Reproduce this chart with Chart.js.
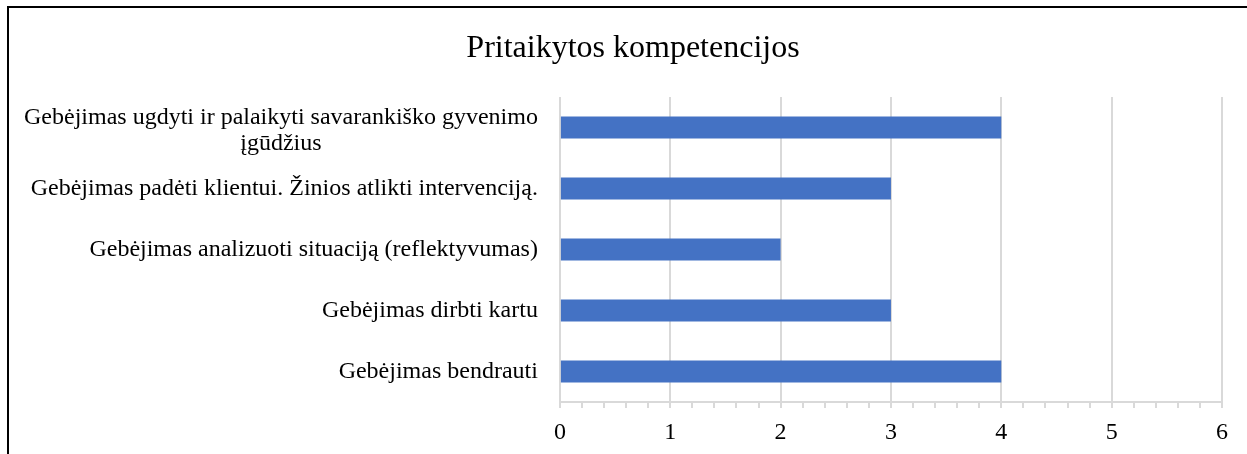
<!DOCTYPE html>
<html>
<head>
<meta charset="utf-8">
<script src="https://cdn.jsdelivr.net/npm/chart.js@4"></script>
<style>
  html, body { margin: 0; padding: 0; background: #fff; overflow: hidden; }
  #frame { position: absolute; left: 7px; top: 6px; width: 1300px; height: 500px;
           border-top: 2px solid #000; border-left: 2px solid #000; }
  #wrap { position: absolute; left: 0; top: 0; width: 1247px; height: 454px; overflow: hidden; }
</style>
</head>
<body>
<div id="frame"></div>
<div id="wrap"><canvas id="chart" width="1247" height="459"></canvas></div>
<script>
const title = 'Pritaikytos kompetencijos';
const categories = [
  ['Gebėjimas ugdyti ir palaikyti savarankiško gyvenimo', 'įgūdžius'],
  'Gebėjimas padėti klientui. Žinios atlikti intervenciją.',
  'Gebėjimas analizuoti situaciją (reflektyvumas)',
  'Gebėjimas dirbti kartu',
  'Gebėjimas bendrauti'
];
const values = [4, 3, 2, 3, 4];
const xTicks = [0, 1, 2, 3, 4, 5, 6];

const serif = "'Liberation Serif', 'Times New Roman', serif";
const isMajor = v => Math.abs(v - Math.round(v)) < 1e-6;

// title centred on the frame, y labels: single lines right aligned, two-line label centred as a block
const textPlugin = {
  id: 'textPlugin',
  afterDraw(chart) {
    const ctx = chart.ctx;
    const y = chart.scales.y;
    ctx.save();
    ctx.fillStyle = '#000';
    ctx.textAlign = 'center';
    ctx.textBaseline = 'middle';
    ctx.font = '32px ' + serif;
    ctx.fillText(title, 633, 49);
    ctx.font = '24px ' + serif;
    const right = y.right - 22;
    const lh = 26;
    categories.forEach((lab, i) => {
      const lines = Array.isArray(lab) ? lab : [lab];
      const w = Math.max(...lines.map(l => ctx.measureText(l).width));
      const cy = y.getPixelForValue(i) + (lines.length > 1 ? 3 : 0);
      const top = cy - (lines.length - 1) * lh / 2;
      lines.forEach((l, j) => ctx.fillText(l, right - w / 2, top + j * lh));
    });
    ctx.restore();
  }
};

new Chart(document.getElementById('chart'), {
  type: 'bar',
  data: {
    labels: categories,
    datasets: [{
      data: values,
      backgroundColor: '#4472C4',
      barPercentage: 0.36,
      categoryPercentage: 1
    }]
  },
  options: {
    indexAxis: 'y',
    responsive: false,
    animation: false,
    layout: { padding: { left: 2, right: 25, top: 97, bottom: 1 } },
    plugins: {
      legend: { display: false },
      tooltip: { enabled: false },
      title: { display: false }
    },
    scales: {
      x: {
        min: xTicks[0],
        max: xTicks[xTicks.length - 1],
        border: { color: '#d9d9d9', width: 2 },
        grid: {
          lineWidth: 2,
          color: c => isMajor(c.tick.value) ? '#d9d9d9' : 'rgba(0,0,0,0)',
          tickColor: '#d9d9d9',
          tickLength: 6
        },
        ticks: {
          stepSize: 0.2,
          autoSkip: false,
          maxRotation: 0,
          color: '#000',
          padding: 13,
          font: { family: serif, size: 24, lineHeight: 1 },
          callback: v => isMajor(v) && xTicks.includes(Math.round(v)) ? String(Math.round(v)) : ''
        }
      },
      y: {
        border: { display: false },
        grid: { display: false, drawTicks: false },
        ticks: {
          autoSkip: false,
          color: 'rgba(0,0,0,0)',
          padding: 22,
          font: { family: serif, size: 24 }
        }
      }
    }
  },
  plugins: [textPlugin]
});
</script>
</body>
</html>
